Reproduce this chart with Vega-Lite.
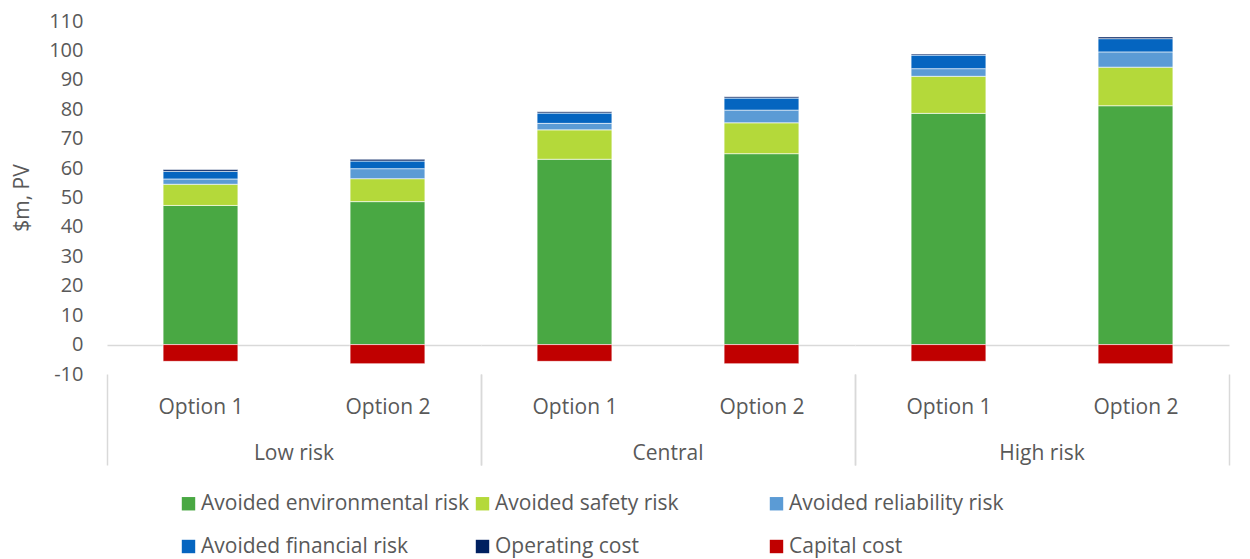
{
  "$schema": "https://vega.github.io/schema/vega-lite/v6.json",
  "padding": {"left": 11, "top": 11, "right": 8, "bottom": 5},
  "background": "white",
  "config": {
    "font": "Open Sans",
    "view": {"stroke": null},
    "axis": {"labelFont": "Open Sans", "titleFont": "Open Sans"},
    "header": {"labelFont": "Open Sans"},
    "legend": {"labelFont": "Open Sans"}
  },
  "data": {
    "values": [
      {"Scenario": "Low risk", "Option": "Option 1", "Component": "Avoided environmental risk", "Rank": 1, "Value": 47.3},
      {"Scenario": "Low risk", "Option": "Option 1", "Component": "Avoided safety risk", "Rank": 2, "Value": 7.2},
      {"Scenario": "Low risk", "Option": "Option 1", "Component": "Avoided reliability risk", "Rank": 3, "Value": 1.8},
      {"Scenario": "Low risk", "Option": "Option 1", "Component": "Avoided financial risk", "Rank": 4, "Value": 2.6},
      {"Scenario": "Low risk", "Option": "Option 1", "Component": "Operating cost", "Rank": 5, "Value": 0.6},
      {"Scenario": "Low risk", "Option": "Option 1", "Component": "Capital cost", "Rank": 6, "Value": -5.7},
      {"Scenario": "Low risk", "Option": "Option 2", "Component": "Avoided environmental risk", "Rank": 1, "Value": 48.6},
      {"Scenario": "Low risk", "Option": "Option 2", "Component": "Avoided safety risk", "Rank": 2, "Value": 7.8},
      {"Scenario": "Low risk", "Option": "Option 2", "Component": "Avoided reliability risk", "Rank": 3, "Value": 3.4},
      {"Scenario": "Low risk", "Option": "Option 2", "Component": "Avoided financial risk", "Rank": 4, "Value": 2.6},
      {"Scenario": "Low risk", "Option": "Option 2", "Component": "Operating cost", "Rank": 5, "Value": 0.6},
      {"Scenario": "Low risk", "Option": "Option 2", "Component": "Capital cost", "Rank": 6, "Value": -6.5},
      {"Scenario": "Central", "Option": "Option 1", "Component": "Avoided environmental risk", "Rank": 1, "Value": 63.0},
      {"Scenario": "Central", "Option": "Option 1", "Component": "Avoided safety risk", "Rank": 2, "Value": 10.0},
      {"Scenario": "Central", "Option": "Option 1", "Component": "Avoided reliability risk", "Rank": 3, "Value": 2.2},
      {"Scenario": "Central", "Option": "Option 1", "Component": "Avoided financial risk", "Rank": 4, "Value": 3.5},
      {"Scenario": "Central", "Option": "Option 1", "Component": "Operating cost", "Rank": 5, "Value": 0.45},
      {"Scenario": "Central", "Option": "Option 1", "Component": "Capital cost", "Rank": 6, "Value": -5.7},
      {"Scenario": "Central", "Option": "Option 2", "Component": "Avoided environmental risk", "Rank": 1, "Value": 64.9},
      {"Scenario": "Central", "Option": "Option 2", "Component": "Avoided safety risk", "Rank": 2, "Value": 10.5},
      {"Scenario": "Central", "Option": "Option 2", "Component": "Avoided reliability risk", "Rank": 3, "Value": 4.3},
      {"Scenario": "Central", "Option": "Option 2", "Component": "Avoided financial risk", "Rank": 4, "Value": 4.1},
      {"Scenario": "Central", "Option": "Option 2", "Component": "Operating cost", "Rank": 5, "Value": 0.45},
      {"Scenario": "Central", "Option": "Option 2", "Component": "Capital cost", "Rank": 6, "Value": -6.5},
      {"Scenario": "High risk", "Option": "Option 1", "Component": "Avoided environmental risk", "Rank": 1, "Value": 78.6},
      {"Scenario": "High risk", "Option": "Option 1", "Component": "Avoided safety risk", "Rank": 2, "Value": 12.6},
      {"Scenario": "High risk", "Option": "Option 1", "Component": "Avoided reliability risk", "Rank": 3, "Value": 2.6},
      {"Scenario": "High risk", "Option": "Option 1", "Component": "Avoided financial risk", "Rank": 4, "Value": 4.6},
      {"Scenario": "High risk", "Option": "Option 1", "Component": "Operating cost", "Rank": 5, "Value": 0.4},
      {"Scenario": "High risk", "Option": "Option 1", "Component": "Capital cost", "Rank": 6, "Value": -5.7},
      {"Scenario": "High risk", "Option": "Option 2", "Component": "Avoided environmental risk", "Rank": 1, "Value": 81.2},
      {"Scenario": "High risk", "Option": "Option 2", "Component": "Avoided safety risk", "Rank": 2, "Value": 13.1},
      {"Scenario": "High risk", "Option": "Option 2", "Component": "Avoided reliability risk", "Rank": 3, "Value": 5.2},
      {"Scenario": "High risk", "Option": "Option 2", "Component": "Avoided financial risk", "Rank": 4, "Value": 4.5},
      {"Scenario": "High risk", "Option": "Option 2", "Component": "Operating cost", "Rank": 5, "Value": 0.6},
      {"Scenario": "High risk", "Option": "Option 2", "Component": "Capital cost", "Rank": 6, "Value": -6.5}
    ]
  },
  "facet": {
    "column": {
      "field": "Scenario",
      "type": "nominal",
      "sort": ["Low risk", "Central", "High risk"],
      "header": {
        "title": null,
        "labelOrient": "bottom",
        "labelFontSize": 21,
        "labelColor": "#595959",
        "labelPadding": -23
      }
    }
  },
  "spacing": 0,
  "spec": {
    "width": 374,
    "height": 353,
    "mark": {"type": "bar", "width": {"band": 0.4}, "stroke": "#ffffff", "strokeWidth": 0.6},
    "encoding": {
      "x": {
        "field": "Option",
        "type": "nominal",
        "scale": {"paddingInner": 0, "paddingOuter": 0},
        "axis": {
          "title": null,
          "domain": false,
          "labelAngle": 0,
          "labelFontSize": 21,
          "labelColor": "#595959",
          "labelPadding": -69,
          "tickBand": "extent",
          "tickSize": 91,
          "tickWidth": 1.5,
          "tickColor": "#d9d9d9",
          "tickOpacity": {"condition": {"test": "datum.value === 'Option 1'", "value": 0}, "value": 1}
        }
      },
      "y": {
        "field": "Value",
        "type": "quantitative",
        "stack": "zero",
        "scale": {"domain": [-10, 110], "nice": false},
        "axis": {
          "title": "$m, PV",
          "titleFontSize": 21,
          "titleFontWeight": "normal",
          "titleColor": "#595959",
          "titlePadding": 16,
          "values": [-10, 0, 10, 20, 30, 40, 50, 60, 70, 80, 90, 100, 110],
          "labelExpr": "'' + datum.value",
          "labelOverlap": false,
          "labelSeparation": 0,
          "grid": true,
          "gridColor": "#d9d9d9",
          "gridWidth": 1.5,
          "gridOpacity": {"condition": {"test": "datum.value === 0", "value": 1}, "value": 0},
          "domain": false,
          "ticks": false,
          "labelFontSize": 20,
          "labelColor": "#595959",
          "labelPadding": 24
        }
      },
      "color": {
        "field": "Component",
        "type": "nominal",
        "sort": ["Avoided environmental risk", "Avoided safety risk", "Avoided reliability risk", "Avoided financial risk", "Operating cost", "Capital cost"],
        "scale": {
          "domain": ["Avoided environmental risk", "Avoided safety risk", "Avoided reliability risk", "Avoided financial risk", "Operating cost", "Capital cost"],
          "range": ["#49A843", "#B4D93A", "#5B9BD5", "#0565C0", "#002060", "#C00000"]
        },
        "legend": {
          "title": null,
          "orient": "none",
          "legendX": 71,
          "legendY": 472,
          "direction": "horizontal",
          "columns": 3,
          "gridAlign": "all",
          "symbolType": "square",
          "symbolSize": 180,
          "symbolStrokeWidth": 0,
          "labelFontSize": 21,
          "labelColor": "#595959",
          "labelLimit": 400,
          "labelOffset": 2,
          "columnPadding": 2,
          "rowPadding": 21
        }
      },
      "order": {"field": "Rank", "type": "quantitative", "sort": "ascending"}
    }
  }
}
